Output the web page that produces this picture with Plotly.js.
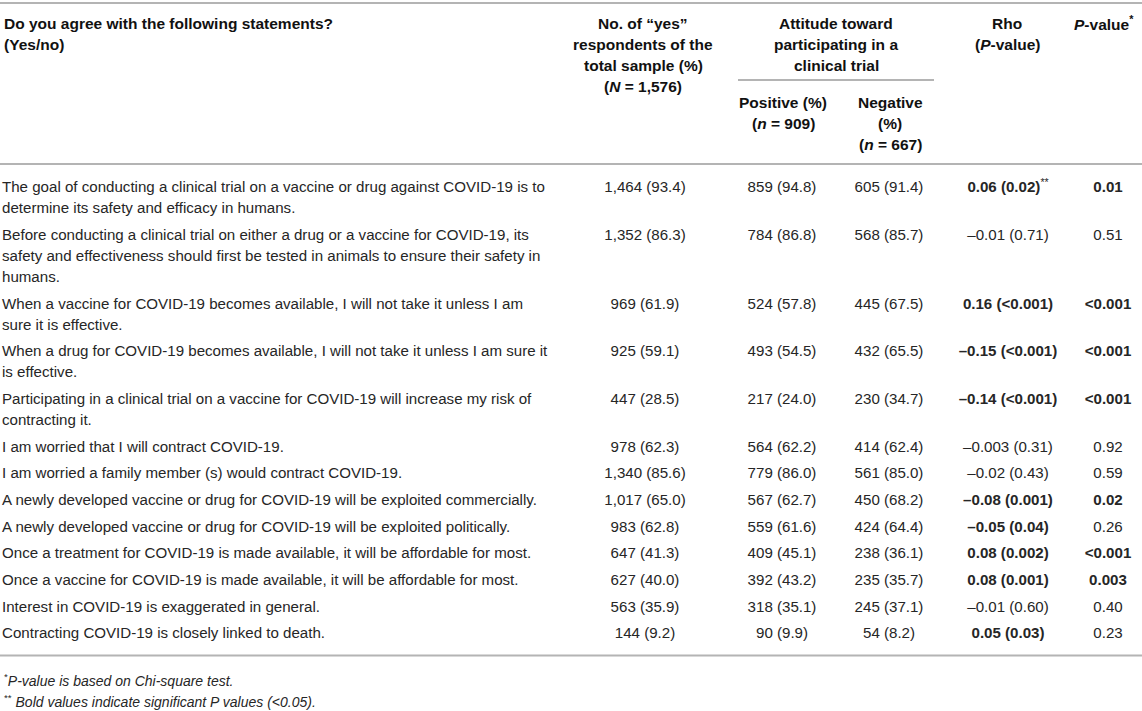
<!DOCTYPE html>
<html>
<head>
<meta charset="utf-8">
<script src="https://cdn.plot.ly/plotly-3.0.1.min.js"></script>
<style>html,body{margin:0;padding:0;background:#fff;}#chart{width:1142px;height:711px;}</style>
</head>
<body>
<div id="chart"></div>
<script>
// ---------- data ----------
const statements = [
  ["The goal of conducting a clinical trial on a vaccine or drug against COVID-19 is to", "determine its safety and efficacy in humans."],
  ["Before conducting a clinical trial on either a drug or a vaccine for COVID-19, its", "safety and effectiveness should first be tested in animals to ensure their safety in", "humans."],
  ["When a vaccine for COVID-19 becomes available, I will not take it unless I am", "sure it is effective."],
  ["When a drug for COVID-19 becomes available, I will not take it unless I am sure it", "is effective."],
  ["Participating in a clinical trial on a vaccine for COVID-19 will increase my risk of", "contracting it."],
  ["I am worried that I will contract COVID-19."],
  ["I am worried a family member (s) would contract COVID-19."],
  ["A newly developed vaccine or drug for COVID-19 will be exploited commercially."],
  ["A newly developed vaccine or drug for COVID-19 will be exploited politically."],
  ["Once a treatment for COVID-19 is made available, it will be affordable for most."],
  ["Once a vaccine for COVID-19 is made available, it will be affordable for most."],
  ["Interest in COVID-19 is exaggerated in general."],
  ["Contracting COVID-19 is closely linked to death."]
];
const totalYes = [1464, 1352, 969, 925, 447, 978, 1340, 1017, 983, 647, 627, 563, 144];
const totalPct = [93.4, 86.3, 61.9, 59.1, 28.5, 62.3, 85.6, 65.0, 62.8, 41.3, 40.0, 35.9, 9.2];
const positiveYes = [859, 784, 524, 493, 217, 564, 779, 567, 559, 409, 392, 318, 90];
const positivePct = [94.8, 86.8, 57.8, 54.5, 24.0, 62.2, 86.0, 62.7, 61.6, 45.1, 43.2, 35.1, 9.9];
const negativeYes = [605, 568, 445, 432, 230, 414, 561, 450, 424, 238, 235, 245, 54];
const negativePct = [91.4, 85.7, 67.5, 65.5, 34.7, 62.4, 85.0, 68.2, 64.4, 36.1, 35.7, 37.1, 8.2];
const rho = ["0.06", "–0.01", "0.16", "–0.15", "–0.14", "–0.003", "–0.02", "–0.08", "–0.05", "0.08", "0.08", "–0.01", "0.05"];
const rhoP = ["0.02", "0.71", "<0.001", "<0.001", "<0.001", "0.31", "0.43", "0.001", "0.04", "0.002", "0.001", "0.60", "0.03"];
const rhoNote = ["**", "", "", "", "", "", "", "", "", "", "", "", ""];
const chiP = ["0.01", "0.51", "<0.001", "<0.001", "<0.001", "0.92", "0.59", "0.02", "0.26", "<0.001", "0.003", "0.40", "0.23"];

// ---------- layout constants (pixel-like axis units) ----------
const W = 1142, H = 711;
const FONT = '"Liberation Sans", Arial, Helvetica, sans-serif';
const FS = 15.1;
const HFS = 15.5;
const colX = {stmt: 2, total: 645, pos: 782, neg: 889, rho: 1008, p: 1108};
const firstLineY = 188.5, lineStep = 21, rowGap = 26.67;
const ruleColor = '#b4b4b4';
const textColor = '#262626';

const esc = s => s.replace(/&/g, '&amp;').replace(/</g, '&lt;').replace(/>/g, '&gt;');
const isSig = s => parseFloat(s.replace('<', '')) < 0.05;
const fmtN = n => n.toLocaleString('en-US');

// row positions
const rowY = [];
const stmtX = [], stmtY = [], stmtT = [];
let y = firstLineY;
statements.forEach((lines) => {
  rowY.push(y);
  lines.forEach((ln, k) => {
    stmtX.push(colX.stmt); stmtY.push(y + k * lineStep); stmtT.push(esc(ln));
  });
  y += (lines.length - 1) * lineStep + rowGap;
});
const lastRowY = rowY[rowY.length - 1];

function colTrace(x, texts, pos) {
  return {
    type: 'scatter', mode: 'text', x: texts.map(() => x), y: rowY.slice(0, texts.length),
    text: texts, textposition: pos || 'middle center',
    textfont: {family: FONT, size: FS, color: textColor},
    hoverinfo: 'skip', showlegend: false, cliponaxis: false
  };
}

const traces = [
  {type: 'scatter', mode: 'text', x: stmtX, y: stmtY, text: stmtT, textposition: 'middle right',
   textfont: {family: FONT, size: FS, color: textColor}, hoverinfo: 'skip', showlegend: false, cliponaxis: false},
  colTrace(colX.total, totalYes.map((v, i) => fmtN(v) + ' (' + totalPct[i].toFixed(1) + ')')),
  colTrace(colX.pos, positiveYes.map((v, i) => fmtN(v) + ' (' + positivePct[i].toFixed(1) + ')')),
  colTrace(colX.neg, negativeYes.map((v, i) => fmtN(v) + ' (' + negativePct[i].toFixed(1) + ')')),
  colTrace(colX.rho, rho.map((r, i) => {
    const s = esc(r + ' (' + rhoP[i] + ')');
    return (isSig(rhoP[i]) ? '<b>' + s + '</b>' : s) + (rhoNote[i] ? '<sup>' + rhoNote[i] + '</sup>' : '');
  })),
  colTrace(colX.p, chiP.map(p => isSig(p) ? '<b>' + esc(p) + '</b>' : esc(p)))
];

// header annotations
const headerLines = [
  [colX.stmt, 'left', ['Do you agree with the following statements?', '(Yes/no)'], 23],
  [643, 'center', ['No. of “yes”', 'respondents of the', 'total sample (%)', '(<i>N</i> = 1,576)'], 23],
  [836, 'center', ['Attitude toward', 'participating in a', 'clinical trial'], 23],
  [783, 'center', ['Positive (%)', '(<i>n</i> = 909)'], 102],
  [890, 'center', ['Negative', '(%)', '(<i>n</i> = 667)'], 102],
  [1007, 'center', ['Rho', '(<i>P</i>-value)'], 23],
  [1104, 'center', ['<i>P</i>-value<sup>*</sup>'], 23]
];
const annotations = [];
headerLines.forEach(([x, anchor, lines, y0]) => {
  lines.forEach((t, k) => {
    annotations.push({xref: 'x', yref: 'y', x: x, y: y0 + k * lineStep, text: '<b>' + t + '</b>',
      xanchor: anchor, yanchor: 'middle', showarrow: false,
      font: {family: FONT, size: HFS, color: '#111'}});
  });
});
const footY = lastRowY + 45;
annotations.push({xref: 'x', yref: 'y', x: colX.stmt, y: footY, xanchor: 'left', yanchor: 'middle', showarrow: false,
  text: '<sup>*</sup><i>P-value is based on Chi-square test.</i>', font: {family: FONT, size: 14, color: textColor}});
annotations.push({xref: 'x', yref: 'y', x: colX.stmt, y: footY + lineStep, xanchor: 'left', yanchor: 'middle', showarrow: false,
  text: '<sup>**</sup> <i>Bold values indicate significant P values (&lt;0.05).</i>', font: {family: FONT, size: 14, color: textColor}});

const rule = (x0, x1, yy) => ({type: 'line', xref: 'x', yref: 'y', x0: x0, x1: x1, y0: yy, y1: yy,
  line: {color: ruleColor, width: 2}});
const shapes = [
  rule(0, W, 3),
  rule(738, 934, 80),
  rule(0, W, 164),
  rule(0, W, lastRowY + 21)
];

const layout = {
  width: W, height: H, margin: {l: 0, r: 0, t: 0, b: 0},
  paper_bgcolor: '#fff', plot_bgcolor: '#fff',
  xaxis: {range: [0, W], visible: false, fixedrange: true},
  yaxis: {range: [H, 0], visible: false, fixedrange: true},
  annotations: annotations, shapes: shapes, showlegend: false
};
Plotly.newPlot('chart', traces, layout, {staticPlot: true, displayModeBar: false});
</script>
</body>
</html>
